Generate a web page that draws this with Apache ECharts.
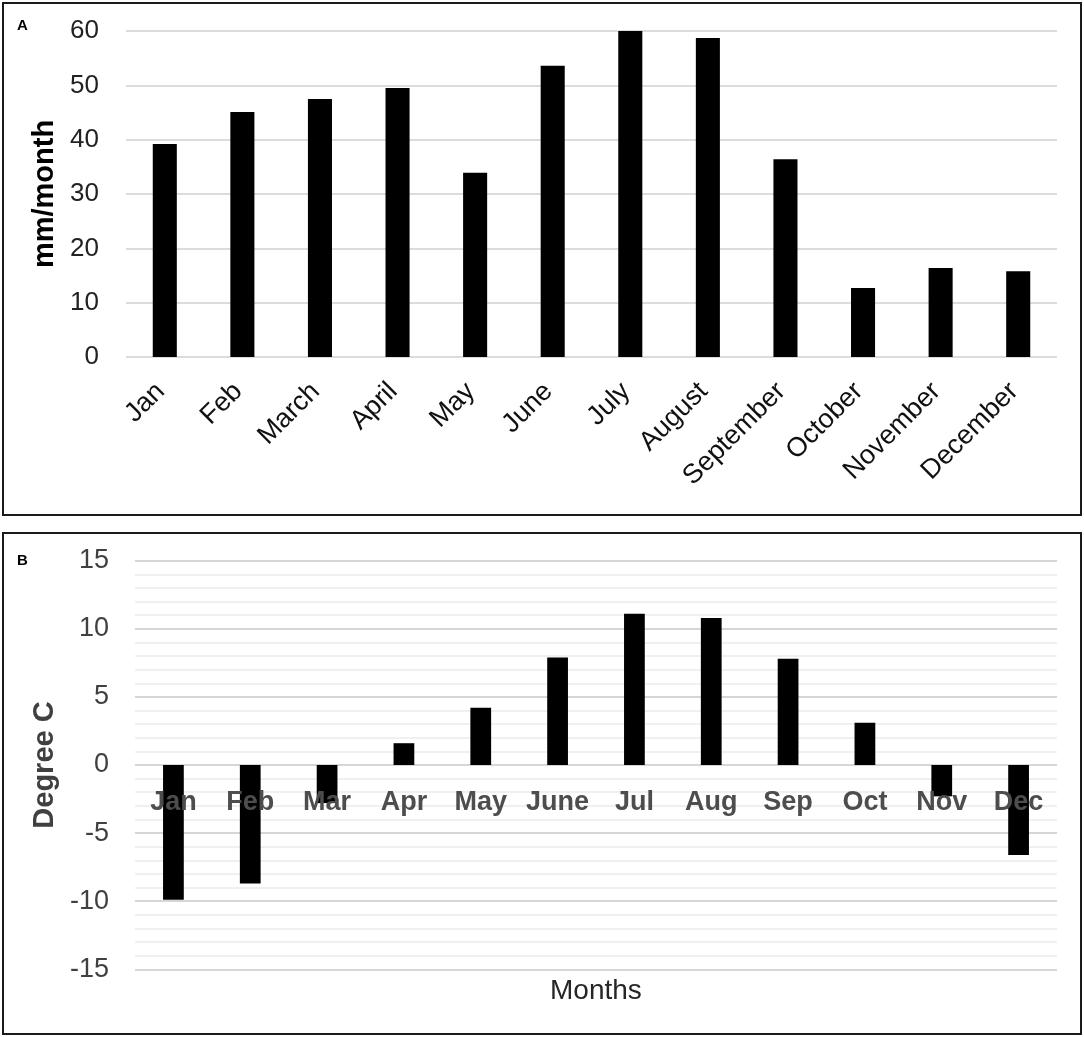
<!DOCTYPE html>
<html lang="en">
<head>
    <meta charset="UTF-8">
    <title>Monthly precipitation and temperature</title>
    <style>
        html, body {
            margin: 0;
            padding: 0;
            background: #fff;
        }
        #chart {
            width: 1084px;
            height: 1037px;
        }
    </style>
</head>
<body>
<div id="chart"></div>
<script src="https://cdn.jsdelivr.net/npm/echarts@6/dist/echarts.min.js"></script>
<script>
    // panel A: precipitation
    let monthsLong = ['Jan', 'Feb', 'March', 'April', 'May', 'June', 'July', 'August',
        'September', 'October', 'November', 'December'];
    let rainfall = [39.2, 45.1, 47.5, 49.5, 33.9, 53.6, 60.0, 58.7, 36.4, 12.7, 16.4, 15.8];
    let rainTicks = [0, 60, 10];

    // panel B: temperature
    let monthsShort = ['Jan', 'Feb', 'Mar', 'Apr', 'May', 'June', 'Jul', 'Aug', 'Sep', 'Oct', 'Nov', 'Dec'];
    let temperature = [-9.9, -8.7, -2.8, 1.6, 4.2, 7.9, 11.1, 10.8, 7.8, 3.1, -2.3, -6.6];
    let tempTicks = [-15, 15, 5];

    let font = 'Liberation Sans';
    let gridB = {left: 135, top: 560.7, width: 922, height: 408.6};
    // month names of panel B sit on the zero line
    let zeroOffset = -gridB.height * (0 - tempTicks[0]) / (tempTicks[1] - tempTicks[0]);

    let chart = echarts.init(document.getElementById('chart'));

    let option = {
        animation: false,
        grid: [
            {left: 126, top: 31, width: 931, height: 326},
            gridB
        ],
        xAxis: [
            {
                gridIndex: 0,
                type: 'category',
                data: monthsLong,
                axisLine: {show: false},
                axisTick: {show: false},
                axisLabel: {
                    interval: 0,
                    rotate: 45,
                    margin: 26,
                    padding: [0, 6, 0, 0],
                    fontFamily: font,
                    fontSize: 27,
                    color: '#111'
                }
            },
            {
                gridIndex: 1,
                type: 'category',
                data: monthsShort,
                z: 10,
                position: 'bottom',
                offset: zeroOffset,
                axisLine: {show: false, onZero: false},
                axisTick: {show: false},
                axisLabel: {
                    interval: 0,
                    margin: 24,
                    fontFamily: font,
                    fontSize: 27,
                    fontWeight: 'bold',
                    color: '#4d4d4d'
                }
            }
        ],
        yAxis: [
            {
                gridIndex: 0,
                type: 'value',
                min: rainTicks[0],
                max: rainTicks[1],
                interval: rainTicks[2],
                name: 'mm/month',
                nameLocation: 'middle',
                nameGap: 66,
                nameTextStyle: {
                    fontFamily: font,
                    fontSize: 29,
                    fontWeight: 'bold',
                    color: '#000'
                },
                axisLabel: {
                    margin: 27,
                    fontFamily: font,
                    fontSize: 26,
                    color: '#222'
                },
                splitLine: {lineStyle: {color: '#d0d0d0', width: 1.5}}
            },
            {
                gridIndex: 1,
                type: 'value',
                min: tempTicks[0],
                max: tempTicks[1],
                interval: tempTicks[2],
                name: 'Degree C',
                nameLocation: 'middle',
                nameGap: 76,
                nameTextStyle: {
                    fontFamily: font,
                    fontSize: 29,
                    fontWeight: 'bold',
                    color: '#404040'
                },
                axisLabel: {
                    margin: 26,
                    fontFamily: font,
                    fontSize: 27,
                    color: '#404040'
                },
                minorTick: {show: false, splitNumber: 5},
                minorSplitLine: {show: true, lineStyle: {color: '#ebebeb', width: 1.5}},
                splitLine: {lineStyle: {color: '#c8c8c8', width: 1.5}}
            }
        ],
        series: [
            {
                type: 'bar',
                xAxisIndex: 0,
                yAxisIndex: 0,
                barWidth: '31%',
                itemStyle: {color: '#000'},
                data: rainfall
            },
            {
                type: 'bar',
                xAxisIndex: 1,
                yAxisIndex: 1,
                barWidth: '27%',
                itemStyle: {color: '#000'},
                data: temperature
            }
        ],
        graphic: [
            {
                type: 'rect',
                shape: {x: 3, y: 3, width: 1078, height: 512},
                style: {fill: 'none', stroke: '#1a1a1a', lineWidth: 2}
            },
            {
                type: 'rect',
                shape: {x: 3, y: 533, width: 1078, height: 501},
                style: {fill: 'none', stroke: '#1a1a1a', lineWidth: 2}
            },
            {
                type: 'text',
                left: 17,
                top: 18,
                style: {text: 'A', font: 'bold 15px ' + font, fill: '#000'}
            },
            {
                type: 'text',
                left: 17,
                top: 553,
                style: {text: 'B', font: 'bold 15px ' + font, fill: '#000'}
            },
            {
                type: 'text',
                left: 550,
                top: 977,
                style: {text: 'Months', font: '28px ' + font, fill: '#262626'}
            }
        ]
    };
    chart.setOption(option);
</script>
</body>
</html>
